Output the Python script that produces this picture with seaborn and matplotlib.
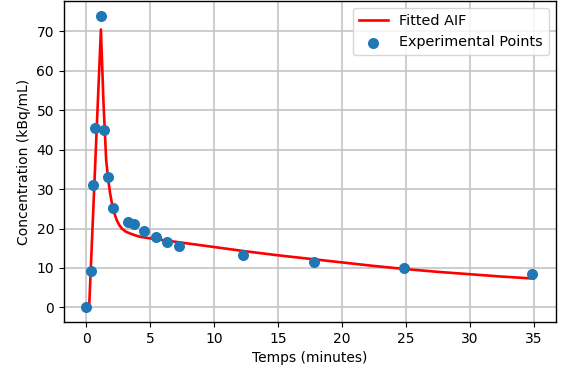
import matplotlib
matplotlib.use("Agg")
import matplotlib.pyplot as plt
import seaborn as sns
import pandas as pd

# Experimental points
t_points = [0.0, 0.4, 0.55, 0.7, 1.17, 1.4, 1.7, 2.1, 3.27, 3.75, 4.5, 5.45, 6.3, 7.25, 12.3, 17.85, 24.9, 34.9]
c_points = [0.2, 9.2, 31.0, 45.5, 74.0, 45.0, 33.0, 25.2, 21.6, 21.1, 19.3, 17.8, 16.5, 15.5, 13.2, 11.5, 9.9, 8.4]

# Fitted AIF curve
t_fit = [0.0, 0.23, 1.15, 1.35, 1.56, 1.72, 1.87, 2.0, 2.13, 2.26, 2.39, 2.58, 2.78, 3.1, 3.43, 3.8, 4.2,
         5.0, 7.5, 10.0, 12.5, 15.0, 17.5, 20.0, 22.5, 25.0, 27.5, 30.0, 32.5, 35.0]
c_fit = [0.0, 0.0, 70.5, 52.0, 37.4, 32.5, 28.9, 26.6, 24.7, 23.3, 22.1, 20.9, 20.0, 19.2, 18.75, 18.3, 17.9,
         17.5, 16.4, 15.3, 14.2, 13.2, 12.3, 11.4, 10.5, 9.7, 9.0, 8.4, 7.8, 7.3]

df_pts = pd.DataFrame({"t": t_points, "c": c_points})
df_fit = pd.DataFrame({"t": t_fit, "c": c_fit})

plt.rcParams["font.family"] = ["DejaVu Sans"]
plt.rcParams["font.size"] = 10

fig = plt.figure(figsize=(5.65, 3.73), dpi=100)
ax = fig.add_axes([0.113, 0.137, 0.871, 0.86])

sns.lineplot(data=df_fit, x="t", y="c", ax=ax, color="red", linewidth=1.9,
             label="Fitted AIF", sort=False, estimator=None)
sns.scatterplot(data=df_pts, x="t", y="c", ax=ax, color="#1f77b4", s=48,
                edgecolor="#1f77b4", linewidth=1.0, label="Experimental Points", zorder=3)

ax.margins(0.05)
ax.set_xticks([0, 5, 10, 15, 20, 25, 30, 35])
ax.set_yticks([0, 10, 20, 30, 40, 50, 60, 70])
ax.grid(True, color="#c0c0c0", linewidth=1.1)
ax.set_axisbelow(True)
for s in ax.spines.values():
    s.set_linewidth(1.0)
ax.set_xlabel("Temps (minutes)")
ax.set_ylabel("Concentration (kBq/mL)")
ax.legend(loc="upper right", fontsize=10.4)

fig.savefig("out.png", dpi=100)
